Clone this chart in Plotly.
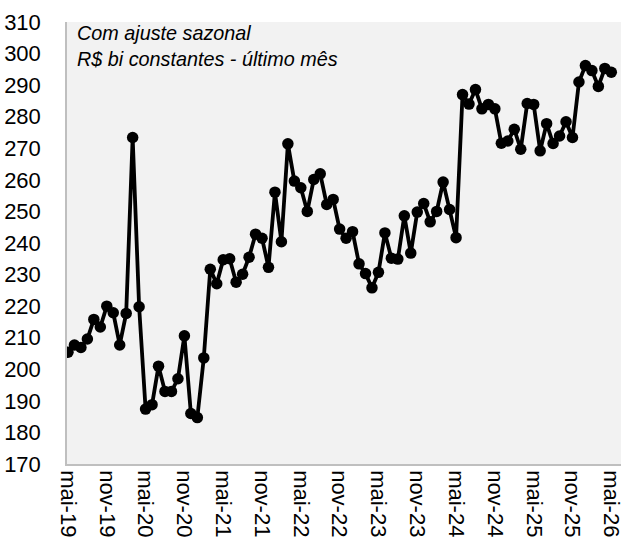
import plotly.graph_objects as go

month_abbr = ["jan", "fev", "mar", "abr", "mai", "jun", "jul", "ago", "set", "out", "nov", "dez"]

# monthly categories mai-19 .. mai-26
months = []
y, m = 2019, 4
for _ in range(85):
    months.append(f"{month_abbr[m]}-{str(y)[2:]}")
    m += 1
    if m == 12:
        m = 0
        y += 1

values = [
    205.4, 207.7, 206.9, 209.6, 215.8, 213.4, 220.0, 217.9, 207.7, 217.7,
    273.4, 219.8, 187.4, 188.8, 201.0, 193.0, 193.0, 197.0, 210.6, 186.0,
    184.7, 203.6, 231.7, 227.1, 234.7, 235.0, 227.6, 230.1, 235.5, 242.8,
    241.5, 232.3, 256.1, 240.4, 271.4, 259.6, 257.5, 250.0, 260.1, 261.9,
    252.2, 253.8, 244.4, 241.5, 243.6, 233.4, 230.3, 225.8, 230.7, 243.2,
    235.2, 234.9, 248.6, 236.8, 249.8, 252.5, 246.7, 250.0, 259.3, 250.6,
    241.7, 287.0, 284.0, 288.6, 282.5, 283.9, 282.5, 271.6, 272.3, 276.0,
    269.7, 284.2, 283.9, 269.2, 277.8, 271.5, 273.9, 278.4, 273.4, 291.0,
    296.2, 294.6, 289.6, 295.3, 294.1,
]

tick_labels = ["mai-19", "nov-19", "mai-20", "nov-20", "mai-21", "nov-21", "mai-22",
               "nov-22", "mai-23", "nov-23", "mai-24", "nov-24", "mai-25", "nov-25", "mai-26"]

note_lines = ["Com ajuste sazonal", "R$ bi constantes - último mês"]

fig = go.Figure(go.Scatter(
    x=months, y=values, mode="lines+markers",
    line=dict(color="#000000", width=3.8),
    marker=dict(color="#000000", size=11.5),
    showlegend=False,
))

font_family = "Liberation Sans, Arial, sans-serif"

fig.update_layout(
    width=623, height=547,
    autosize=False,
    margin=dict(l=67, r=2, t=22, b=83, autoexpand=False),
    paper_bgcolor="#ffffff",
    plot_bgcolor="#f2f2f2",
    font=dict(family=font_family, color="#000000", size=22),
    xaxis=dict(
        type="category",
        categoryorder="array", categoryarray=months,
        tickmode="array", tickvals=tick_labels, ticktext=tick_labels,
        tickangle=90,
        range=[-0.15, 85.5],
        showgrid=False, zeroline=False,
        showline=True, linecolor="#bfbfbf", linewidth=1.5,
        ticks="", tickfont=dict(size=22),
        automargin=False,
    ),
    yaxis=dict(
        range=[170, 310], dtick=10, tick0=170,
        showgrid=False, zeroline=False,
        showline=True, linecolor="#bfbfbf", linewidth=1.5,
        ticks="outside", ticklen=20, tickcolor="rgba(0,0,0,0)",
        tickfont=dict(size=22),
        automargin=False,
    ),
    annotations=[dict(
        x=0, y=1, xref="paper", yref="paper", xanchor="left", yanchor="top",
        xshift=8, yshift=2, align="left", showarrow=False,
        text="<i>" + "<br>".join(note_lines) + "</i>",
        font=dict(family=font_family, size=19.8, color="#000000"),
    )],
)

fig.write_html(
    "out.html",
    config={"displayModeBar": False},
    post_script="document.body.style.margin='0';document.body.style.overflow='hidden';",
)
